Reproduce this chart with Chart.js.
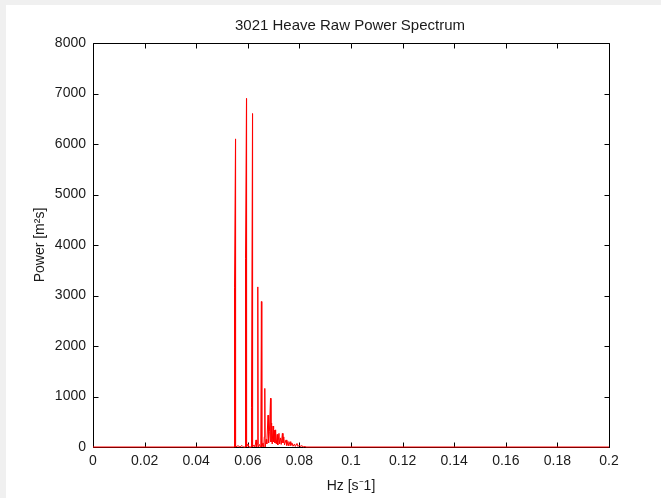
<!DOCTYPE html>
<html>
<head>
<meta charset="utf-8">
<title>3021 Heave Raw Power Spectrum</title>
<script src="https://cdn.jsdelivr.net/npm/chart.js@4/dist/chart.umd.min.js"></script>
<style>
  html, body { margin: 0; padding: 0; background: #ffffff; }
  #wrap { position: relative; width: 661px; height: 498px; }
  canvas { display: block; }
</style>
</head>
<body>
<div id="wrap"><canvas id="spec" width="661" height="498"></canvas></div>
<script>
// Raw heave power spectrum, record 3021: frequency (Hz) and power (m^2 s) vertices
const freqHz = [
  0, 0.054826, 0.054845, 0.055233, 0.055252,
  0.05620, 0.05698, 0.05775, 0.05833,
  0.059089, 0.059109, 0.059496, 0.059516,
  0.06008, 0.06047,
  0.061415, 0.061434, 0.061822, 0.061841,
  0.06240, 0.06279,
  0.06318, 0.06341, 0.06364, 0.06388, 0.06403,
  0.06454, 0.06485,
  0.06504, 0.06527, 0.06543,
  0.06589, 0.06620,
  0.06640, 0.06659, 0.06674,
  0.06713, 0.06736,
  0.06783, 0.06806,
  0.06837, 0.06880, 0.06899,
  0.06923, 0.06946,
  0.06977, 0.07000,
  0.07031, 0.07054,
  0.07078, 0.07105,
  0.07140, 0.07163,
  0.07209, 0.07233,
  0.07267, 0.07295,
  0.07341, 0.07364,
  0.07395, 0.07423,
  0.07481, 0.07512,
  0.07558, 0.07589,
  0.07636, 0.07667,
  0.07713, 0.07752,
  0.07810, 0.07841,
  0.07907, 0.07946,
  0.08004, 0.08043,
  0.08101, 0.08140,
  0.08217, 0.08256,
  0.2
];
const powerM2s = [
  0, 0, 3150, 6100, 0,
  25, 0, 30, 0,
  0, 3740, 6900, 0,
  60, 0,
  0, 790, 6600, 0,
  40, 0,
  140, 0, 60, 3170, 0,
  50, 0,
  120, 2880, 0,
  80, 0,
  200, 1160, 0,
  150, 60,
  630, 80,
  300, 965, 100,
  475, 60,
  415, 100,
  330, 80,
  340, 60,
  250, 40,
  270, 60,
  180, 50,
  270, 80,
  200, 40,
  140, 30,
  110, 20,
  105, 30,
  80, 15,
  60, 10,
  70, 10,
  40, 5,
  30, 0,
  10, 0,
  0
];
const xTicksHz = [0, 0.02, 0.04, 0.06, 0.08, 0.1, 0.12, 0.14, 0.16, 0.18, 0.2];
const yTicksPower = [0, 1000, 2000, 3000, 4000, 5000, 6000, 7000, 8000];

const titleText = '3021 Heave Raw Power Spectrum';
const xLabelText = 'Hz [s\u207B1]';
const yLabelText = 'Power [m\u00B2s]';

const FONT = '"Liberation Sans", Arial, Helvetica, sans-serif';
const TEXT_COLOR = '#1a1a1a';

const points = freqHz.map((f, i) => ({ x: f, y: powerM2s[i] }));

// Grey window frame, boxed axes with inward ticks, and the text labels
const figurePlugin = {
  id: 'figureDecor',
  beforeDraw(chart) {
    const ctx = chart.ctx;
    ctx.save();
    ctx.fillStyle = '#f0f0f0';
    ctx.fillRect(0, 0, chart.width, chart.height);
    ctx.fillStyle = '#ffffff';
    ctx.fillRect(6, 5, chart.width - 6, chart.height - 5);
    ctx.restore();
  },
  beforeDatasetsDraw(chart) {
    const ctx = chart.ctx;
    const a = chart.chartArea;
    const xs = chart.scales.x, ys = chart.scales.y;
    const L = Math.round(a.left) + 0.5, R = Math.round(a.right) + 0.5;
    const T = Math.round(a.top) + 0.5, B = Math.round(a.bottom) + 0.5;
    ctx.save();
    ctx.strokeStyle = '#000000';
    ctx.lineWidth = 1;
    ctx.beginPath();
    ctx.rect(L, T, R - L, B - T);
    const tick = 5;
    xTicksHz.forEach(v => {
      const px = Math.round(xs.getPixelForValue(v)) + 0.5;
      ctx.moveTo(px, B); ctx.lineTo(px, B - tick);
      ctx.moveTo(px, T); ctx.lineTo(px, T + tick);
    });
    yTicksPower.forEach(v => {
      const py = Math.round(ys.getPixelForValue(v)) + 0.5;
      ctx.moveTo(L, py); ctx.lineTo(L + tick, py);
      ctx.moveTo(R, py); ctx.lineTo(R - tick, py);
    });
    ctx.stroke();

    ctx.fillStyle = TEXT_COLOR;
    ctx.textAlign = 'center';
    ctx.textBaseline = 'middle';
    ctx.font = '15px ' + FONT;
    const cx = (a.left + a.right) / 2;
    ctx.fillText(titleText, cx - 1, 26);
    ctx.font = '14px ' + FONT;
    ctx.fillText(xLabelText, cx, 486);
    ctx.translate(40, (a.top + a.bottom) / 2);
    ctx.rotate(-Math.PI / 2);
    ctx.fillText(yLabelText, 0, 0);
    ctx.restore();
  }
};

new Chart(document.getElementById('spec'), {
  type: 'line',
  data: {
    datasets: [{
      data: points,
      borderColor: '#ff0000',
      borderWidth: 1,
      pointRadius: 0,
      tension: 0,
      fill: false,
      clip: false
    }]
  },
  options: {
    responsive: false,
    animation: false,
    events: [],
    layout: { padding: { left: 0, top: 43, right: 52, bottom: 0 } },
    plugins: { legend: { display: false }, title: { display: false }, tooltip: { enabled: false } },
    scales: {
      x: {
        type: 'linear',
        min: 0, max: 0.2,
        afterFit(scale) { scale.height = 51; },
        afterBuildTicks(scale) { scale.ticks = xTicksHz.map(v => ({ value: v })); },
        grid: { display: false, drawTicks: false },
        border: { display: false },
        ticks: {
          color: TEXT_COLOR,
          font: { family: FONT, size: 14 },
          padding: 6,
          maxRotation: 0,
          autoSkip: false,
          callback: v => String(Number(v.toFixed(2)))
        }
      },
      y: {
        type: 'linear',
        min: 0, max: 8000,
        afterFit(scale) { scale.width = 93; },
        afterBuildTicks(scale) { scale.ticks = yTicksPower.map(v => ({ value: v })); },
        grid: { display: false, drawTicks: false },
        border: { display: false },
        ticks: {
          color: TEXT_COLOR,
          font: { family: FONT, size: 14 },
          padding: 7,
          autoSkip: false,
          callback: v => String(v)
        }
      }
    }
  },
  plugins: [figurePlugin]
});
</script>
</body>
</html>
